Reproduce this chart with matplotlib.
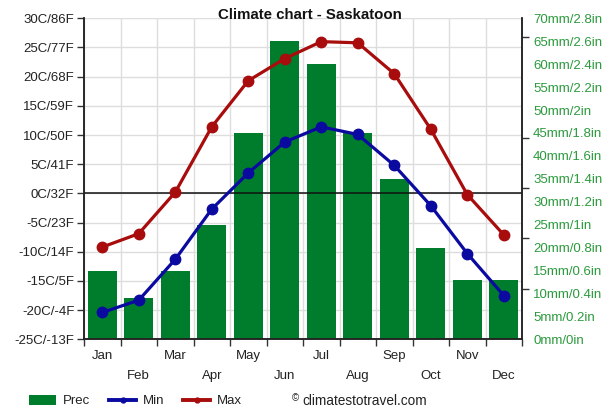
import matplotlib
matplotlib.use("Agg")
import matplotlib.pyplot as plt
from matplotlib.ticker import MultipleLocator, FixedLocator, FuncFormatter
from matplotlib.transforms import blended_transform_factory
from matplotlib.patches import Patch
from matplotlib.lines import Line2D

plt.rcParams['font.family'] = ['Liberation Sans', 'DejaVu Sans']

months = ['Jan', 'Feb', 'Mar', 'Apr', 'May', 'Jun', 'Jul', 'Aug', 'Sep', 'Oct', 'Nov', 'Dec']
prec_mm = [15, 9, 15, 25, 45, 65, 60, 45, 35, 20, 13, 13]
t_min = [-20.4, -18.3, -11.3, -2.7, 3.5, 8.8, 11.4, 10.1, 4.8, -2.1, -10.3, -17.5]
t_max = [-9.2, -6.9, 0.2, 11.4, 19.3, 23.1, 26.0, 25.8, 20.5, 11.0, -0.2, -7.1]
temp_ticks = [-25, -20, -15, -10, -5, 0, 5, 10, 15, 20, 25, 30]
prec_ticks = [0, 5, 10, 15, 20, 25, 30, 35, 40, 45, 50, 55, 60, 65, 70]

GREEN = '#007d2c'
RED = '#a80c0c'
BLUE = '#0a0aa0'
LBL_GREEN = '#2a9a3c'
TXT = '#222222'

W, H = 611, 408
fig = plt.figure(figsize=(W / 100, H / 100), dpi=100)
L, R, T, B = 84, 522, 18.3, 339.3
ax = fig.add_axes([L / W, 1 - B / H, (R - L) / W, (B - T) / H])
ax2 = ax.twinx()
ax.set_zorder(2)
ax2.set_zorder(1)
ax.patch.set_visible(False)
ax2.patch.set_facecolor('white')

x = list(range(1, 13))

# grid (behind bars) drawn on the precipitation axes
trans_h = blended_transform_factory(ax2.transAxes, ax.transData)
ax2.hlines(temp_ticks, 0, 1, transform=trans_h, color='#dddddd', lw=1, zorder=0.5)
trans_v = blended_transform_factory(ax.transData, ax2.transAxes)
ax2.vlines([i + 0.5 for i in range(0, 13)], 0, 1, transform=trans_v, color='#dddddd', lw=1, zorder=0.5)

ax2.bar(x, prec_mm, width=0.8, color=GREEN, zorder=1)
ax2.set_ylim(0, 70)

ax.axhline(0, color='#111111', lw=1.1, zorder=1)
ax.plot(x, t_max, color=RED, lw=2.3, marker='o', ms=7.5, zorder=3)
ax.plot(x, t_min, color=BLUE, lw=2.3, marker='o', ms=7.5, zorder=3)
ax.set_ylim(-25, 30)
ax.set_xlim(0.5, 12.5)

# left axis
ax.yaxis.set_major_locator(FixedLocator(temp_ticks))
ax.yaxis.set_major_formatter(FuncFormatter(lambda v, p: f"{int(v)}C/{round(v * 9 / 5 + 32)}F"))
ax.tick_params(axis='y', which='major', length=5, width=1, color='#333333', labelsize=9.5, labelcolor=TXT, pad=2)

# x axis
ax.xaxis.set_major_locator(FixedLocator([i + 0.5 for i in range(0, 13)]))
ax.xaxis.set_major_formatter(FuncFormatter(lambda v, p: ''))
ax.xaxis.set_minor_locator(FixedLocator(x))
ax.set_xticklabels(months, minor=True)
ax.tick_params(axis='x', which='major', length=5, width=1, color='#333333')
ax.tick_params(axis='x', which='minor', length=0, labelsize=9.5, labelcolor=TXT, pad=8)
for i, t in enumerate(ax.xaxis.get_minor_ticks()):
    if i % 2 == 1:
        t.set_pad(22)

# right axis
ax2.yaxis.set_major_locator(FixedLocator(prec_ticks))
ax2.yaxis.set_major_formatter(FuncFormatter(
    lambda v, p: f"{int(v)}mm/{('%.1f' % (v / 25)).rstrip('0').rstrip('.')}in"))
ax2.yaxis.set_minor_locator(MultipleLocator(11))
ax2.tick_params(axis='y', which='major', length=0, labelsize=9.5, labelcolor=LBL_GREEN, pad=8)
ax2.tick_params(axis='y', which='minor', length=5, width=1, color='#333333')

for a in (ax, ax2):
    a.spines['top'].set_visible(False)
    for s in ('left', 'right', 'bottom'):
        a.spines[s].set_color('#222222')
        a.spines[s].set_linewidth(1.1)

fig.text(310 / W, 1 - 15 / H, 'Climate chart - Saskatoon', ha='center', va='center',
         fontsize=10.8, fontweight='bold', color='#111111')

handles = [Patch(facecolor=GREEN, edgecolor='none'),
           Line2D([], [], color=BLUE, lw=2.8, marker='o', ms=3.5),
           Line2D([], [], color=RED, lw=2.8, marker='o', ms=3.5)]
fig.legend(handles, ['Prec', 'Min', 'Max'], loc='center left',
           bbox_to_anchor=(29 / W, 1 - 401 / H), ncol=3, frameon=False,
           fontsize=9.5, handlelength=2.05, handleheight=0.85, handletextpad=0.5,
           columnspacing=1.45, borderpad=0, borderaxespad=0, labelcolor=TXT)

fig.text(292 / W, 1 - 398 / H, '©', fontsize=7, ha='left', va='center', color=TXT)
fig.text(302 / W, 1 - 401 / H, 'climatestotravel.com', fontsize=9.8, ha='left', va='center', color=TXT)

fig.savefig('out.png', dpi=100)
